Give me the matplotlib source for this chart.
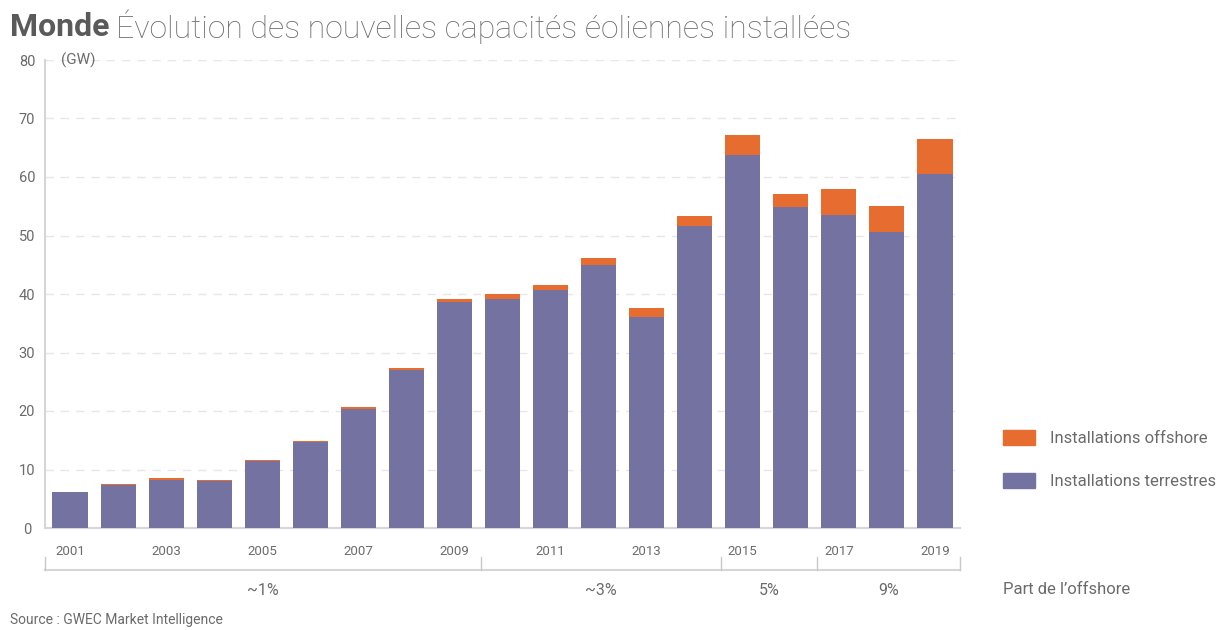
import numpy as np
import matplotlib
matplotlib.use('Agg')
import matplotlib.pyplot as plt
from matplotlib.patches import Patch

plt.rcParams['font.family'] = ['Roboto', 'DejaVu Sans']

# Data (GW)
years = list(range(2001, 2020))
onshore = [6.1, 7.3, 8.2, 8.1, 11.5, 14.7, 20.4, 27.0, 38.6, 39.1, 40.7, 45.0,
           36.1, 51.7, 63.8, 54.9, 53.5, 50.6, 60.5]
offshore = [0.1, 0.2, 0.3, 0.1, 0.1, 0.2, 0.3, 0.4, 0.5, 0.9, 0.8, 1.2,
            1.5, 1.6, 3.4, 2.2, 4.5, 4.5, 6.0]
shares = ['~1%', '~3%', '5%', '9%']
share_groups = [(2001, 2009), (2010, 2014), (2015, 2016), (2017, 2019)]

purple = '#7472a0'
orange = '#e66c30'
grey_txt = '#6b6b6b'
grey_line = '#d6d6d6'

fig = plt.figure(figsize=(12.3, 6.3), dpi=100)
ax = fig.add_axes([45 / 1230, 102 / 630, 915 / 1230, 468 / 630])

x = np.arange(len(years))
ax.bar(x, onshore, width=0.73, color=purple, zorder=3)
ax.bar(x, offshore, width=0.73, bottom=onshore, color=orange, zorder=3)

ax.set_xlim(-0.52, len(years) - 0.48)
ax.set_ylim(0, 80)
ax.set_yticks(range(0, 81, 10))
ax.yaxis.grid(True, linestyle=(0, (6, 5)), color='#e6e6e6', linewidth=1, zorder=0)
ax.set_xticks(x[::2])
ax.set_xticklabels([str(y) for y in years[::2]])
ax.tick_params(axis='x', length=0, pad=12, labelsize=9.5, labelcolor=grey_txt)
ax.tick_params(axis='y', length=0, pad=13, labelsize=10.5, labelcolor=grey_txt)
for lbl in ax.get_yticklabels():
    lbl.set_horizontalalignment('center')

for s in ['top', 'right']:
    ax.spines[s].set_visible(False)
ax.spines['left'].set_color(grey_line)
ax.spines['bottom'].set_color(grey_line)
ax.spines['left'].set_linewidth(1.5)
ax.spines['bottom'].set_linewidth(1.5)

ax.text(0.018, 80, '(GW)', transform=ax.get_yaxis_transform(), ha='left', va='center',
        fontsize=11, color=grey_txt)

# offshore share bracket
tr = ax.get_xaxis_transform()
yb, yt, yl = -0.09, -0.062, -0.133
xlo, xhi = ax.get_xlim()
ax.plot([xlo, xhi], [yb, yb], transform=tr, color=grey_line, lw=1.5, clip_on=False)
edges = [xlo] + [years.index(g[1]) + 0.55 for g in share_groups[:-1]] + [xhi]
for e in edges:
    ax.plot([e, e], [yb, yt], transform=tr, color='#c8c8c8', lw=1, clip_on=False)
for i, s in enumerate(shares):
    ax.text((edges[i] + edges[i + 1]) / 2, yl, s, transform=tr, ha='center', va='center',
            fontsize=11.5, color=grey_txt)

fig.text(1003 / 1230, 1 - 590 / 630, "Part de l\u2019offshore", ha='left', va='center',
         fontsize=12, color=grey_txt)

handles = [Patch(color=orange, label='Installations offshore'),
           Patch(color=purple, label='Installations terrestres')]
fig.legend(handles=handles, loc='upper left', bbox_to_anchor=(1003 / 1230, 1 - 430 / 630),
           frameon=False, fontsize=12, labelcolor=grey_txt, handlelength=1.9,
           handleheight=1.0, labelspacing=1.6, handletextpad=0.9, borderaxespad=0,
           borderpad=0)

fig.text(10 / 1230, 1 - 27 / 630, 'Monde', fontsize=23, fontweight='bold', color='#5a5a5a',
         ha='left', va='center')
fig.text(116 / 1230, 1 - 27 / 630, '\u00c9volution des nouvelles capacit\u00e9s \u00e9oliennes install\u00e9es',
         fontsize=23, fontweight='light', color='#6b6b6b', ha='left', va='center')

fig.text(10 / 1230, 1 - 620 / 630, 'Source : GWEC Market Intelligence', fontsize=10,
         color=grey_txt, ha='left', va='center')

fig.savefig('out.png', dpi=100)
